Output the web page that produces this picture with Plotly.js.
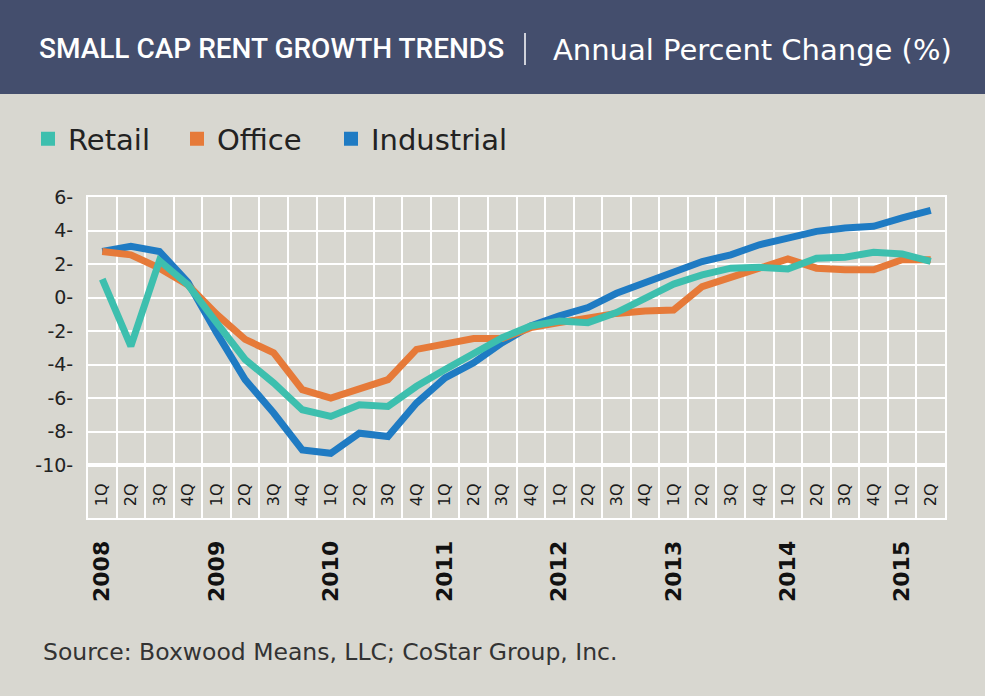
<!DOCTYPE html>
<html>
<head>
<meta charset="utf-8">
<script src="https://cdn.plot.ly/plotly-3.0.1.min.js"></script>
<style>html,body{margin:0;padding:0;background:#d8d7d0;}#chart{width:985px;height:696px;}</style>
</head>
<body>
<div id="chart"></div>
<script>
// ---- data ----
const quarters = ['1Q','2Q','3Q','4Q','1Q','2Q','3Q','4Q','1Q','2Q','3Q','4Q','1Q','2Q','3Q','4Q',
                  '1Q','2Q','3Q','4Q','1Q','2Q','3Q','4Q','1Q','2Q','3Q','4Q','1Q','2Q'];
const years = ['2008','2009','2010','2011','2012','2013','2014','2015'];
const retail = [1.1, -2.9, 2.2, 0.75, -1.5, -3.7, -5.1, -6.7, -7.1, -6.4, -6.5, -5.3, -4.3, -3.3, -2.4, -1.7,
                -1.4, -1.5, -0.9, -0.05, 0.8, 1.35, 1.75, 1.8, 1.7, 2.35, 2.4, 2.7, 2.6, 2.15];
const office = [2.75, 2.55, 1.75, 0.75, -1.0, -2.5, -3.3, -5.5, -6.0, -5.4, -4.9, -3.1, -2.8, -2.45, -2.45, -1.8,
                -1.5, -1.2, -0.95, -0.8, -0.75, 0.65, 1.15, 1.75, 2.3, 1.75, 1.65, 1.65, 2.25, 2.25];
const industrial = [2.75, 3.05, 2.75, 0.9, -2.1, -4.9, -6.9, -9.1, -9.3, -8.1, -8.3, -6.3, -4.8, -3.9, -2.7, -1.7,
                -1.1, -0.6, 0.25, 0.85, 1.5, 2.15, 2.55, 3.15, 3.55, 3.95, 4.15, 4.25, 4.75, 5.2];
const yTicks = [-10, -8, -6, -4, -2, 0, 2, 4, 6];
const seriesNames = ['Retail', 'Office', 'Industrial'];
const seriesColors = ['#3dbfae', '#e67a39', '#1f7bc3'];

// ---- derived positions ----
const idx = quarters.map((q, i) => i);
const bounds = quarters.map((q, i) => i - 0.5).concat([quarters.length - 0.5]);
const yearPos = years.map((y, i) => i * 4);
const W = 985, H = 696;
const px = v => v / W;
const py = v => 1 - v / H;

const xRange = [-0.5, quarters.length - 0.5];
const seriesData = [retail, office, industrial];
const legendIds = ['legend', 'legend2', 'legend3'];
const legendX = [28, 177, 331];

const traces = [];
// lines: industrial first so retail sits on top
[2, 1, 0].forEach(k => {
  traces.push({
    x: idx, y: seriesData[k], type: 'scatter', mode: 'lines',
    line: {color: seriesColors[k], width: 7}, showlegend: false, hoverinfo: 'skip',
    xaxis: 'x', yaxis: 'y'
  });
});
// legend entries (square swatches), one legend box each
[0, 1, 2].forEach(k => {
  traces.push({
    x: [null], y: [null], type: 'scatter', mode: 'markers', name: seriesNames[k],
    marker: {symbol: 'square', size: 14, color: seriesColors[k]}, showlegend: true,
    legend: legendIds[k], xaxis: 'x', yaxis: 'y'
  });
});
// invisible carrier for band subplot
traces.push({x: [null], y: [null], type: 'scatter', mode: 'markers', showlegend: false, xaxis: 'x2', yaxis: 'y2', hoverinfo: 'skip'});

const white = '#ffffff';
const clear = 'rgba(0,0,0,0)';
const legendBase = k => ({
  orientation: 'h', x: px(legendX[k]), xanchor: 'left', y: py(139), yanchor: 'middle',
  font: {family: 'DejaVu Sans', size: 29, color: '#222'}, bgcolor: clear
});

const layout = {
  width: W, height: H,
  margin: {l: 0, r: 0, t: 0, b: 0},
  paper_bgcolor: '#d8d7d0', plot_bgcolor: clear,
  showlegend: true,
  legend: legendBase(0),
  legend2: legendBase(1),
  legend3: legendBase(2),
  xaxis: {
    domain: [px(88), px(945)], anchor: 'y', range: xRange,
    tickmode: 'array', tickvals: idx, ticktext: quarters, tickangle: -90,
    ticks: 'outside', ticklen: 10, tickcolor: clear,
    tickfont: {family: 'DejaVu Sans', size: 16, color: '#1a1a1a'},
    showgrid: false, zeroline: false,
    showline: true, mirror: true, linecolor: white, linewidth: 2,
    minor: {tickmode: 'array', tickvals: bounds, showgrid: true, gridcolor: white, gridwidth: 2, ticks: ''},
    fixedrange: true
  },
  yaxis: {
    domain: [py(465), py(197)], anchor: 'x', range: [-10, 6],
    tickmode: 'array', tickvals: yTicks, ticktext: yTicks.map(v => String(v) + '-'),
    ticks: 'outside', ticklen: 9, tickcolor: clear,
    tickfont: {family: 'DejaVu Sans', size: 19, color: '#222'},
    showgrid: true, gridcolor: white, gridwidth: 2, zeroline: false,
    showline: true, mirror: true, linecolor: white, linewidth: 2,
    fixedrange: true
  },
  xaxis2: {
    domain: [px(88), px(945)], anchor: 'y2', range: xRange,
    tickmode: 'array', tickvals: yearPos, ticktext: years, tickangle: -90,
    ticks: 'outside', ticklen: 12, tickcolor: clear,
    tickfont: {family: 'DejaVu Sans', size: 22, color: '#111', weight: 'bold'},
    showgrid: false, zeroline: false,
    showline: true, mirror: true, linecolor: white, linewidth: 2,
    minor: {tickmode: 'array', tickvals: bounds, showgrid: true, gridcolor: white, gridwidth: 2, ticks: ''},
    fixedrange: true
  },
  yaxis2: {
    domain: [py(518), py(465)], anchor: 'x2', range: [0, 1],
    showgrid: false, zeroline: false, showticklabels: false, ticks: '',
    showline: true, mirror: true, linecolor: white, linewidth: 2,
    fixedrange: true
  },
  shapes: [
    {type: 'rect', xref: 'paper', yref: 'paper', x0: 0, x1: 1, y0: py(94), y1: 1,
     fillcolor: '#444e6d', line: {width: 0}, layer: 'below'},
    {type: 'line', xref: 'paper', yref: 'paper', x0: px(525), x1: px(525), y0: py(65), y1: py(33),
     line: {color: white, width: 1.5}}
  ],
  annotations: [
    {text: 'SMALL CAP RENT GROWTH TRENDS', xref: 'paper', yref: 'paper', x: px(37), y: py(49),
     xanchor: 'left', yanchor: 'middle', showarrow: false,
     font: {family: 'Roboto', size: 28, color: white, weight: 500}},
    {text: 'Annual Percent Change (%)', xref: 'paper', yref: 'paper', x: px(551), y: py(50),
     xanchor: 'left', yanchor: 'middle', showarrow: false,
     font: {family: 'DejaVu Sans', size: 29, color: white}},
    {text: 'Source: Boxwood Means, LLC; CoStar Group, Inc.', xref: 'paper', yref: 'paper', x: px(41), y: py(652),
     xanchor: 'left', yanchor: 'middle', showarrow: false,
     font: {family: 'DejaVu Sans', size: 23.5, color: '#333'}}
  ]
};

Plotly.newPlot('chart', traces, layout, {displayModeBar: false, staticPlot: true});
</script>
</body>
</html>
